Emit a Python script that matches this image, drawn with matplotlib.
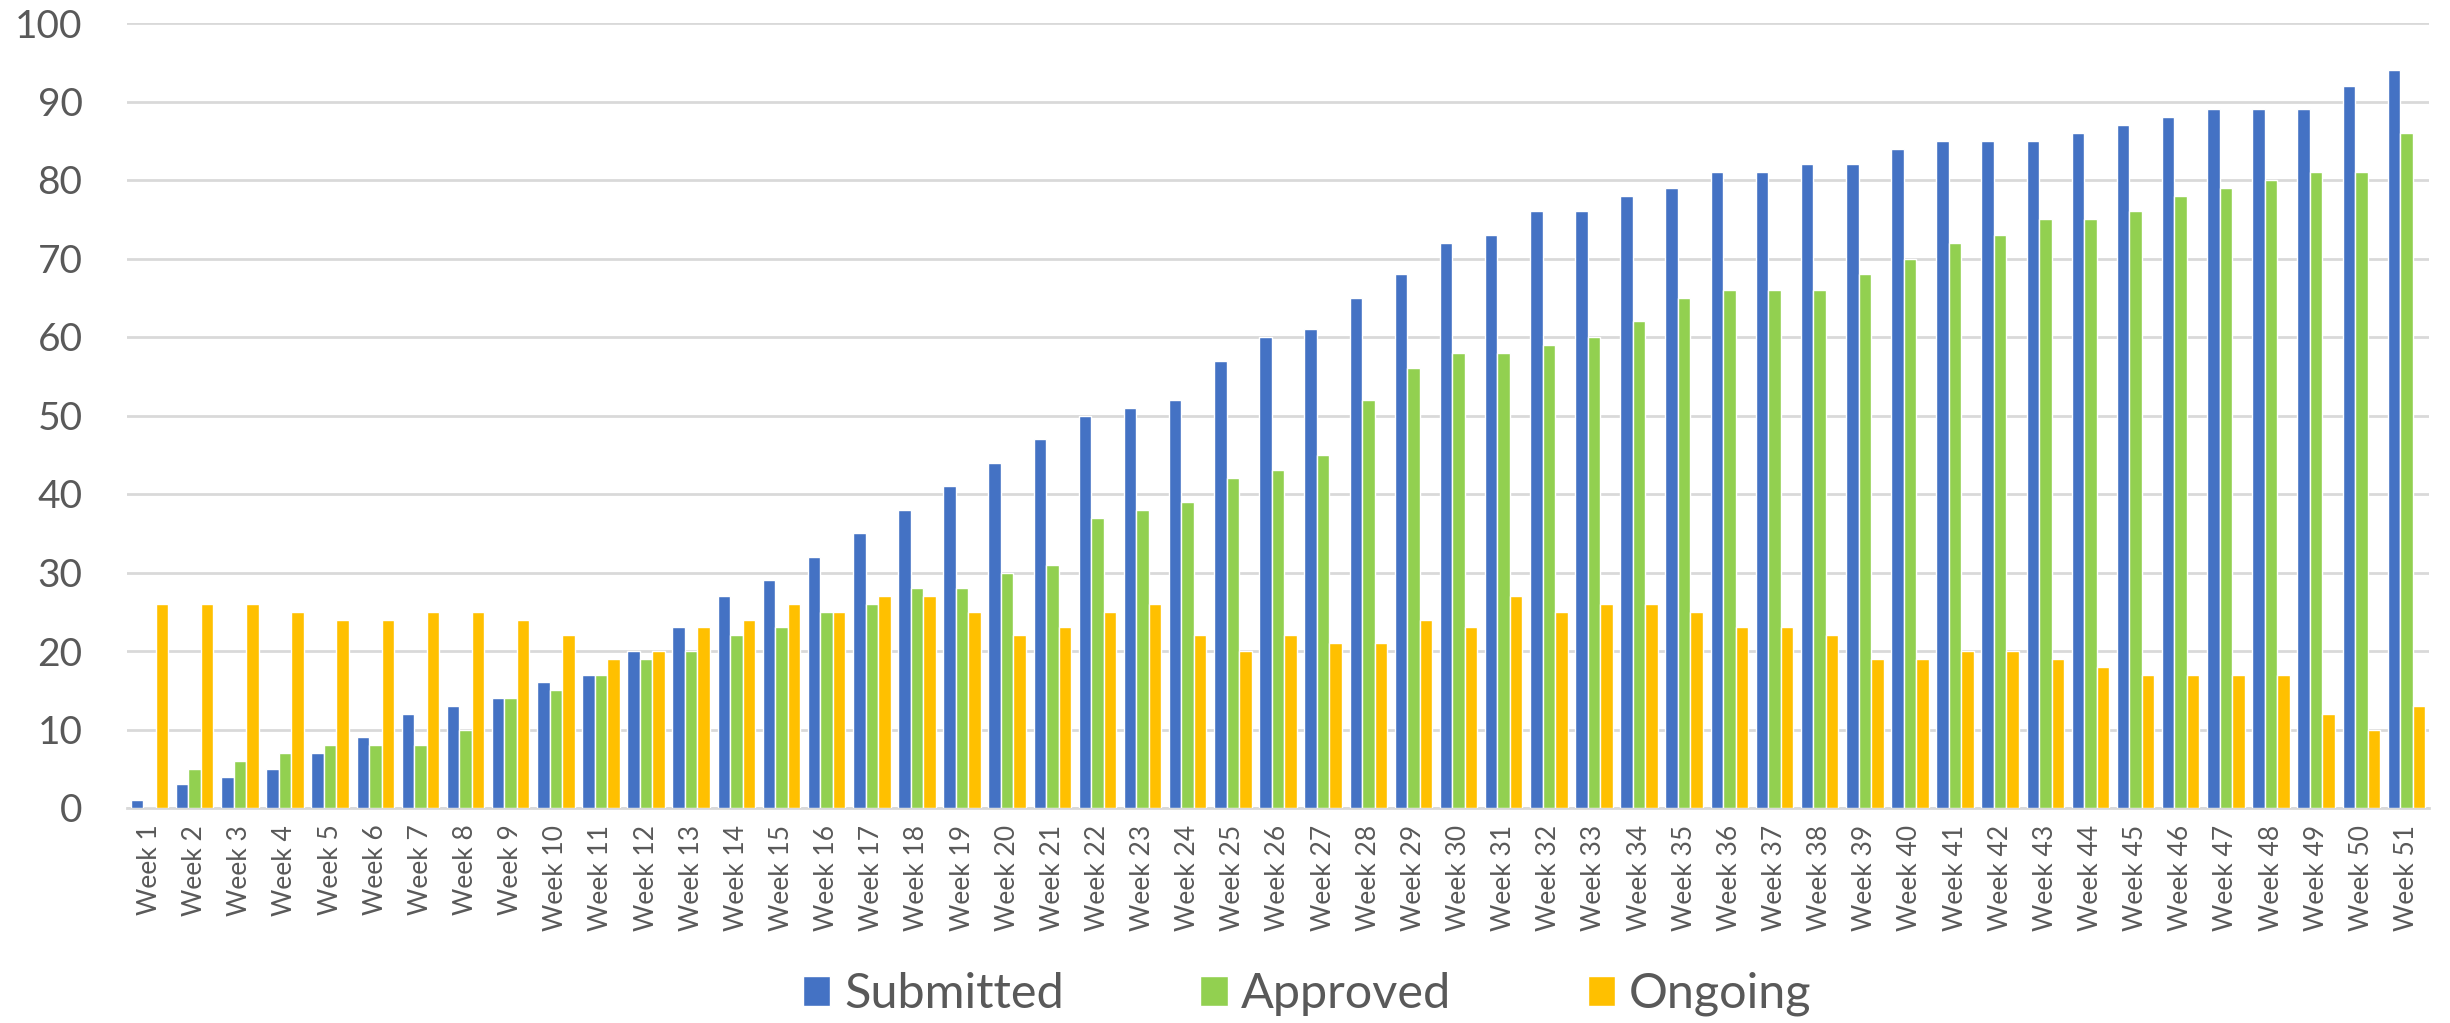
import numpy as np
import matplotlib
matplotlib.use("Agg")
import matplotlib.pyplot as plt

plt.rcParams["font.family"] = ["Lato", "DejaVu Sans"]

# weekly counts
weeks = ["Week %d" % i for i in range(1, 52)]
submitted = [1, 3, 4, 5, 7, 9, 12, 13, 14, 16, 17, 20, 23, 27, 29, 32, 35, 38, 41, 44,
             47, 50, 51, 52, 57, 60, 61, 65, 68, 72, 73, 76, 76, 78, 79, 81, 81, 82, 82, 84,
             85, 85, 85, 86, 87, 88, 89, 89, 89, 92, 94]
approved = [0, 5, 6, 7, 8, 8, 8, 10, 14, 15, 17, 19, 20, 22, 23, 25, 26, 28, 28, 30,
            31, 37, 38, 39, 42, 43, 45, 52, 56, 58, 58, 59, 60, 62, 65, 66, 66, 66, 68, 70,
            72, 73, 75, 75, 76, 78, 79, 80, 81, 81, 86]
ongoing = [26, 26, 26, 25, 24, 24, 25, 25, 24, 22, 19, 20, 23, 24, 26, 25, 27, 27, 25, 22,
           23, 25, 26, 22, 20, 22, 21, 21, 24, 23, 27, 25, 26, 26, 25, 23, 23, 22, 19, 19,
           20, 20, 19, 18, 17, 17, 17, 17, 12, 10, 13]

series = [("Submitted", submitted, "#4472C4"),
          ("Approved", approved, "#92D050"),
          ("Ongoing", ongoing, "#FFC000")]

text_color = "#595959"
grid_color = "#D9D9D9"

fig = plt.figure(figsize=(24.5, 10.23), dpi=100)
ax = fig.add_axes([127 / 2450, 1 - 808 / 1023, (2429 - 127) / 2450, (808 - 23) / 1023])

x = np.arange(len(weeks))
w = 0.277
for i, (name, vals, col) in enumerate(series):
    ax.bar(x + (i - 1) * w, vals, width=w, color=col, edgecolor="white",
           linewidth=1.0, label=name, zorder=3)

ax.set_xlim(-0.5, len(weeks) - 0.5)
ax.set_ylim(0, 100)
ax.set_yticks(range(0, 101, 10))
ax.yaxis.grid(True, color=grid_color, linewidth=2, zorder=0)
ax.set_axisbelow(True)
for s in ["top", "right", "left"]:
    ax.spines[s].set_visible(False)
ax.spines["bottom"].set_color(grid_color)
ax.spines["bottom"].set_linewidth(2)

ax.set_xticks(x)
ax.set_xticklabels(weeks, rotation=90, fontsize=19, color=text_color)
ax.tick_params(axis="x", length=0, pad=12)
ax.tick_params(axis="y", length=0, pad=32, labelsize=28, labelcolor=text_color)

handles, labels = ax.get_legend_handles_labels()
fig.legend(handles, labels, loc="center", bbox_to_anchor=(1307 / 2450, 1 - 994 / 1023),
           ncol=3, frameon=False, fontsize=35, labelcolor=text_color,
           handlelength=0.57, handleheight=0.57, handletextpad=0.28, columnspacing=2.8)

fig.savefig("out.png", dpi=100)
